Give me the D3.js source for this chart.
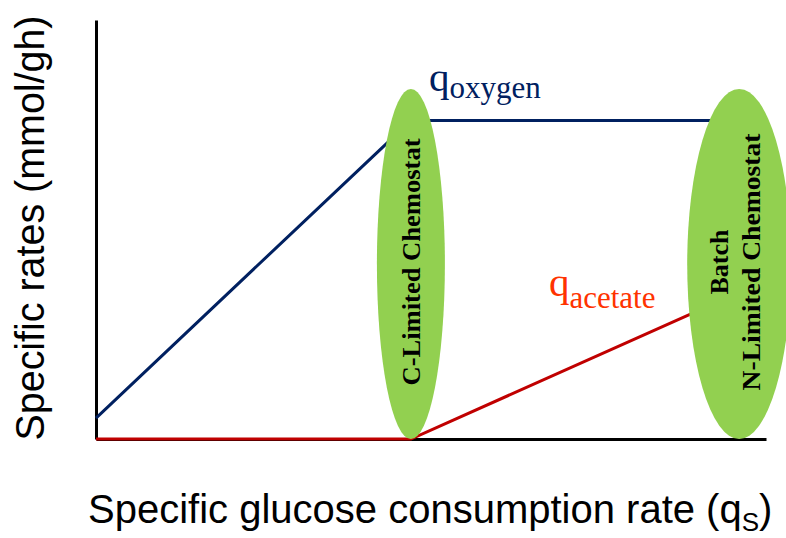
<!DOCTYPE html>
<html>
<head>
<meta charset="utf-8">
<script src="https://cdn.jsdelivr.net/npm/d3@7"></script>
<style>
  body { margin: 0; background: #fff; }
  svg { display: block; }
</style>
</head>
<body>
<div id="chart"></div>
<script>
// glucose uptake rate (arbitrary units, 0-100)
var qsValues = [0, 47, 96];
// specific rates (arbitrary units, 0-100)
var oxygenValues = [5, 76, 76];
var acetateValues = [0, 0, 35];

var regimeQs = [47, 96];
var regimeLabels = [["C-Limited Chemostat"], ["Batch", "N-Limited Chemostat"]];

var width = 786, height = 538;
var margin = {top: 20, right: 20, bottom: 99, left: 96};

var svg = d3.select("#chart").append("svg")
	.attr("width", width)
	.attr("height", height);

var x = d3.scaleLinear().domain([0, 100]).range([margin.left, width - margin.right]);
var y = d3.scaleLinear().domain([0, 100]).range([height - margin.bottom, margin.top]);

// axes, no ticks
svg.append("g")
	.attr("transform", "translate(0," + y(0) + ")")
	.call(d3.axisBottom(x).tickValues([]).tickSizeOuter(0));
svg.append("g")
	.attr("transform", "translate(" + x(0) + ",0)")
	.call(d3.axisLeft(y).tickValues([]).tickSizeOuter(0));
svg.selectAll(".domain")
	.attr("stroke", "#000")
	.attr("stroke-width", 3);

var line = d3.line()
	.x(function(d) { return x(d[0]); })
	.y(function(d) { return y(d[1]); });

svg.append("path")
	.datum(d3.zip(qsValues, oxygenValues))
	.attr("d", line)
	.attr("fill", "none")
	.attr("stroke", "#002060")
	.attr("stroke-width", 3);

svg.append("path")
	.datum(d3.zip(qsValues, acetateValues))
	.attr("d", line)
	.attr("fill", "none")
	.attr("stroke", "#c00000")
	.attr("stroke-width", 3);

// regime ellipses
var ry = 175;
var rxs = [34, 52];
svg.selectAll("ellipse")
	.data(regimeQs)
	.enter()
	.append("ellipse")
	.attr("cx", function(d) { return x(d); })
	.attr("cy", y(0) - ry)
	.attr("rx", function(d, i) { return rxs[i]; })
	.attr("ry", ry)
	.attr("fill", "#92d050");

// ellipse labels (rotated)
var labelLens = [[247], [65, 257]];
var labelOffsets = [[9], [-11, 21]];
regimeLabels.forEach(function(lines, i) {
	lines.forEach(function(t, j) {
		svg.append("text")
			.attr("transform", "translate(" + (x(regimeQs[i]) + labelOffsets[i][j]) + "," + (y(0) - ry - 2) + ") rotate(-90)")
			.attr("text-anchor", "middle")
			.attr("font-family", "Liberation Serif, Times New Roman, serif")
			.attr("font-weight", "bold")
			.attr("font-size", "25px")
			.attr("textLength", labelLens[i][j])
			.attr("lengthAdjust", "spacingAndGlyphs")
			.text(t);
	});
});

// series labels
function seriesLabel(px, py, sub, color, dy) {
	var t = svg.append("text")
		.attr("x", px)
		.attr("y", py)
		.attr("font-family", "Liberation Serif, Times New Roman, serif")
		.attr("fill", color);
	t.append("tspan").attr("font-size", "41px").text("q");
	t.append("tspan").attr("font-size", "31px").attr("dy", dy).text(sub);
}
seriesLabel(x(49.7), y(83.1), "oxygen", "#002060", 7);
seriesLabel(x(67.6), y(34.1), "acetate", "#ff3300", 12);

// axis titles
var xt = svg.append("text")
	.attr("x", 88)
	.attr("y", 523)
	.attr("font-family", "Liberation Sans, Arial, sans-serif")
	.attr("font-size", "40px")
	.attr("fill", "#000");
xt.append("tspan").text("Specific glucose consumption rate (q");
xt.append("tspan").attr("font-size", "26px").attr("dy", 8).text("S");
xt.append("tspan").attr("dy", -8).text(")");

svg.append("text")
	.attr("transform", "translate(44," + 228 + ") rotate(-90)")
	.attr("text-anchor", "middle")
	.attr("font-family", "Liberation Sans, Arial, sans-serif")
	.attr("font-size", "40px")
	.attr("fill", "#000")
	.attr("textLength", 425)
	.attr("lengthAdjust", "spacingAndGlyphs")
	.text("Specific rates (mmol/gh)");
</script>
</body>
</html>
